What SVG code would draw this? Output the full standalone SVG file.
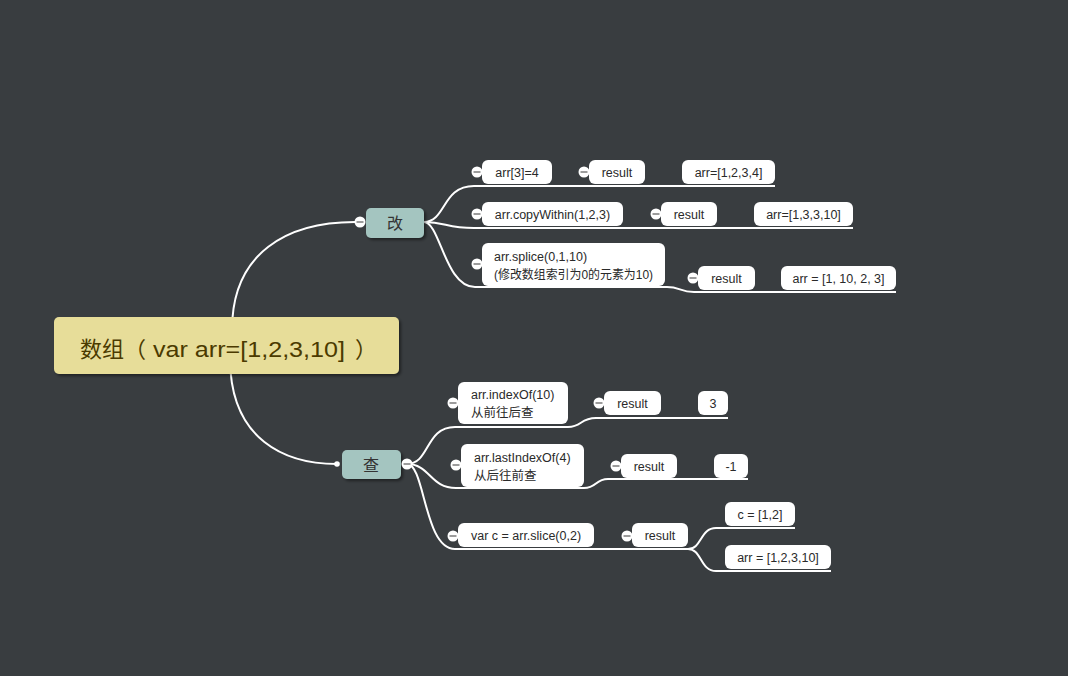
<svg xmlns="http://www.w3.org/2000/svg" width="1068" height="676" viewBox="0 0 1068 676">
<defs>
<filter id="sh" x="-20%" y="-20%" width="140%" height="160%">
<feDropShadow dx="2" dy="2" stdDeviation="1.5" flood-color="#000" flood-opacity="0.45"/>
</filter>
<style>
.bg{fill:#393d40}
.ln{fill:none;stroke:#ffffff;stroke-width:2}
.box{fill:#ffffff}
.t{font-family:"Liberation Sans","Noto Sans CJK SC",sans-serif;font-size:12.5px;fill:#2a2a2a}
.c{text-anchor:middle}
.tp{fill:#a4c5c0;filter:url(#sh)}
.tt{font-family:"Noto Sans CJK SC","Liberation Sans",sans-serif;font-size:16px;fill:#333333;text-anchor:middle}
.root{fill:#e7dd99;filter:url(#sh)}
.rt{font-family:"Liberation Sans","Noto Sans CJK SC",sans-serif;font-size:22px;fill:#4b3a00}
.rtc{font-family:"Noto Sans CJK SC",sans-serif;font-size:22px;fill:#4b3a00}
.cl{fill:#ffffff}
.mn{stroke:#666666;stroke-width:1.3}
</style>
</defs>
<rect class="bg" x="0" y="0" width="1068" height="676"/>

<g id="connectors">
<path class="ln" d="M232,330 C232,252 288,222 355,222"/>
<path class="ln" d="M230,360 C231,440 285,464 337,464"/>
<path class="ln" d="M424,222 C446,222 442,186 474,186 H775"/>
<path class="ln" d="M424,222 C446,222 446,228 474,228 H853"/>
<path class="ln" d="M424,222 C440,222 445,287 475,287 H667 C680,287 680,292 694,292 H896"/>
<path class="ln" d="M407,464 C430,464 425,427 455,427 H568 C582,427 580,418 596,418 H728"/>
<path class="ln" d="M407,464 C430,464 430,488 456,488 H584 C597,488 595,479 608,479 H748"/>
<path class="ln" d="M407,464 C425,464 424,549 455,549 H690"/>
<path class="ln" d="M688,549 C702,549 700,528 716,528 H795"/>
<path class="ln" d="M688,549 C702,549 700,571 716,571 H831"/>
<circle cx="337" cy="464" r="2.8" fill="#ffffff"/>
</g>

<g id="root">
<rect class="root" x="54" y="317" width="345" height="57" rx="5"/>
<text class="rt" y="357"><tspan class="rtc" x="80">数组（</tspan><tspan x="153" textLength="192" lengthAdjust="spacingAndGlyphs">var arr=[1,2,3,10]</tspan><tspan class="rtc" x="355">）</tspan></text>
</g>

<g id="node-gai">
<rect class="tp" x="366" y="208" width="58" height="30" rx="5"/>
<text class="tt" x="395" y="229">改</text>
<circle class="cl" cx="360" cy="222" r="5.5"/><line class="mn" x1="356.5" y1="222" x2="363.5" y2="222"/>
</g>

<g id="node-cha">
<rect class="tp" x="342" y="450" width="59" height="29" rx="5"/>
<text class="tt" x="371" y="471">查</text>
<circle class="cl" cx="407" cy="464" r="5.5"/><line class="mn" x1="403.5" y1="464" x2="410.5" y2="464"/>
</g>

<g id="n-arr3">
<circle class="cl" cx="477" cy="172" r="5.5"/><line class="mn" x1="473.5" y1="172" x2="480.5" y2="172"/>
<rect class="box" x="482" y="160" width="70" height="24" rx="6"/>
<text class="t c" x="517" y="176.5">arr[3]=4</text>
</g>
<g id="n-r1">
<circle class="cl" cx="584" cy="172" r="5.5"/><line class="mn" x1="580.5" y1="172" x2="587.5" y2="172"/>
<rect class="box" x="589" y="160" width="56" height="24" rx="6"/>
<text class="t c" x="617" y="176.5">result</text>
</g>
<g id="n-v1">
<rect class="box" x="682" y="160" width="93" height="24" rx="6"/>
<text class="t c" x="728.5" y="176.5">arr=[1,2,3,4]</text>
</g>

<g id="n-copy">
<circle class="cl" cx="477" cy="214" r="5.5"/><line class="mn" x1="473.5" y1="214" x2="480.5" y2="214"/>
<rect class="box" x="482" y="202" width="141" height="24" rx="6"/>
<text class="t c" x="552.5" y="218.5">arr.copyWithin(1,2,3)</text>
</g>
<g id="n-r2">
<circle class="cl" cx="656" cy="214" r="5.5"/><line class="mn" x1="652.5" y1="214" x2="659.5" y2="214"/>
<rect class="box" x="661" y="202" width="56" height="24" rx="6"/>
<text class="t c" x="689" y="218.5">result</text>
</g>
<g id="n-v2">
<rect class="box" x="754" y="202" width="99" height="24" rx="6"/>
<text class="t c" x="803.5" y="218.5">arr=[1,3,3,10]</text>
</g>

<g id="n-splice">
<circle class="cl" cx="477" cy="264" r="5.5"/><line class="mn" x1="473.5" y1="264" x2="480.5" y2="264"/>
<rect class="box" x="482" y="243" width="183" height="43" rx="6"/>
<text class="t" x="494" y="261">arr.splice(0,1,10)</text>
<text class="t" x="494" y="279" textLength="159" lengthAdjust="spacingAndGlyphs">(修改数组索引为0的元素为10)</text>
</g>
<g id="n-r3">
<circle class="cl" cx="693" cy="278" r="5.5"/><line class="mn" x1="689.5" y1="278" x2="696.5" y2="278"/>
<rect class="box" x="698" y="266" width="57" height="24" rx="6"/>
<text class="t c" x="726.5" y="282.5">result</text>
</g>
<g id="n-v3">
<rect class="box" x="781" y="266" width="115" height="24" rx="6"/>
<text class="t c" x="838.5" y="282.5">arr = [1, 10, 2, 3]</text>
</g>

<g id="n-indexof">
<circle class="cl" cx="453" cy="403" r="5.5"/><line class="mn" x1="449.5" y1="403" x2="456.5" y2="403"/>
<rect class="box" x="458" y="382" width="110" height="42" rx="6"/>
<text class="t" x="471" y="399">arr.indexOf(10)</text>
<text class="t" x="471" y="417">从前往后查</text>
</g>
<g id="n-r4">
<circle class="cl" cx="599" cy="403" r="5.5"/><line class="mn" x1="595.5" y1="403" x2="602.5" y2="403"/>
<rect class="box" x="604" y="391" width="57" height="24" rx="6"/>
<text class="t c" x="632.5" y="407.5">result</text>
</g>
<g id="n-v4">
<rect class="box" x="698" y="391" width="30" height="24" rx="6"/>
<text class="t c" x="713" y="407.5">3</text>
</g>

<g id="n-lastindexof">
<circle class="cl" cx="456" cy="465" r="5.5"/><line class="mn" x1="452.5" y1="465" x2="459.5" y2="465"/>
<rect class="box" x="461" y="444" width="123" height="43" rx="6"/>
<text class="t" x="474" y="462">arr.lastIndexOf(4)</text>
<text class="t" x="474" y="480">从后往前查</text>
</g>
<g id="n-r5">
<circle class="cl" cx="616" cy="466" r="5.5"/><line class="mn" x1="612.5" y1="466" x2="619.5" y2="466"/>
<rect class="box" x="621" y="454" width="56" height="24" rx="6"/>
<text class="t c" x="649" y="470.5">result</text>
</g>
<g id="n-v5">
<rect class="box" x="714" y="454" width="34" height="24" rx="6"/>
<text class="t c" x="731" y="470.5">-1</text>
</g>

<g id="n-slice">
<circle class="cl" cx="453" cy="536" r="5.5"/><line class="mn" x1="449.5" y1="536" x2="456.5" y2="536"/>
<rect class="box" x="458" y="523" width="136" height="24" rx="6"/>
<text class="t c" x="526" y="539.5">var c = arr.slice(0,2)</text>
</g>
<g id="n-r6">
<circle class="cl" cx="627" cy="536" r="5.5"/><line class="mn" x1="623.5" y1="536" x2="630.5" y2="536"/>
<rect class="box" x="632" y="523" width="56" height="24" rx="6"/>
<text class="t c" x="660" y="539.5">result</text>
</g>
<g id="n-c">
<rect class="box" x="725" y="502" width="70" height="24" rx="6"/>
<text class="t c" x="760" y="518.5">c = [1,2]</text>
</g>
<g id="n-arr">
<rect class="box" x="725" y="545" width="106" height="24" rx="6"/>
<text class="t c" x="778" y="561.5">arr = [1,2,3,10]</text>
</g>
</svg>
